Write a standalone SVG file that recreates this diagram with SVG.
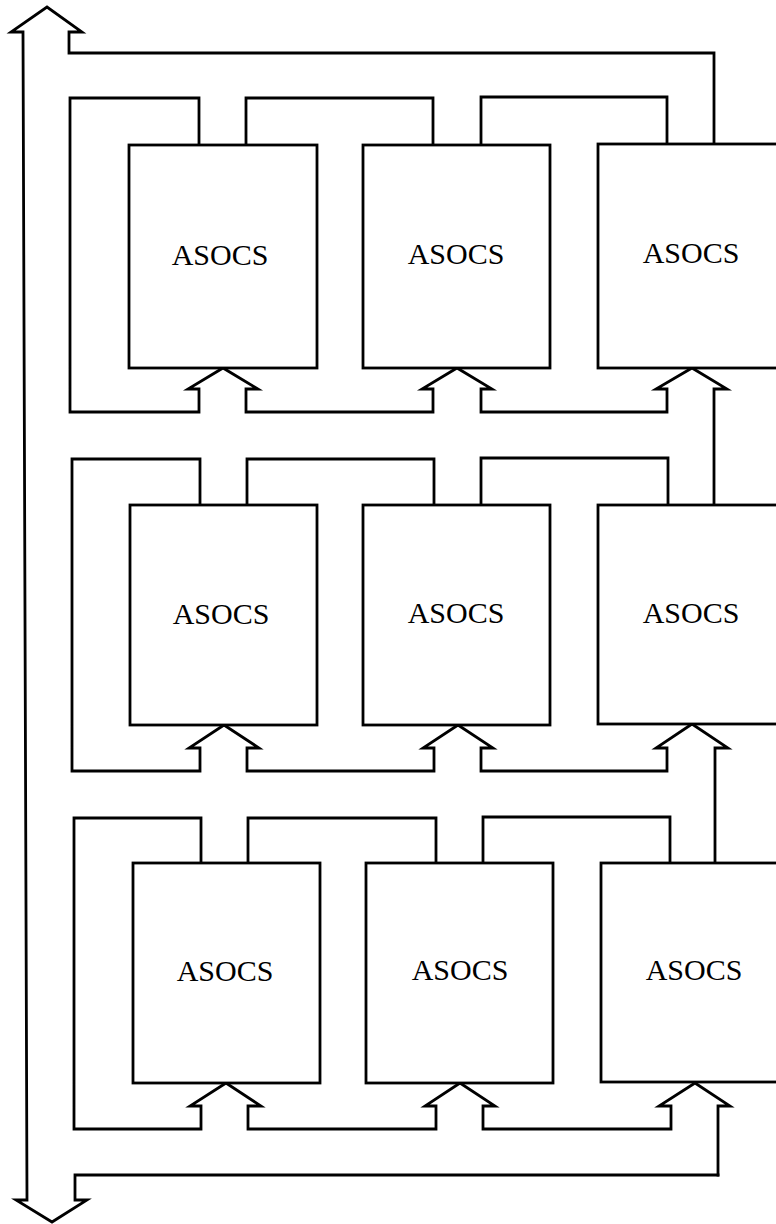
<svg xmlns="http://www.w3.org/2000/svg" width="776" height="1224" viewBox="0 0 776 1224">
<style>
.box{fill:#fff;stroke:#000;stroke-width:2.8}
.wire{fill:none;stroke:#000;stroke-width:2.8;stroke-linejoin:miter;stroke-linecap:square}
.lbl{font-family:"Liberation Serif","Times New Roman",serif;font-size:30px;fill:#000;text-anchor:middle}
</style>
<rect width="776" height="1224" fill="#fff"/>
<g id="connectors">
<path class="wire" d="M714,144 V53 H69 V32 H82 L47,7 L11,32 H23 L27,1200 H16 L52,1222 L87,1200 H75 V1175 H718"/>
<path class="wire" d="M199,145 V98 H70 V412 H199 V389 H188 L223,368 L258,389 H246 V412 H433 V389 H422 L457,368 L492,389 H481 V412 H667 V389 H656 L692,368 L727,389 H714 V505 M246,145 V98 H433 V145 M481,145 V97 H667 V144"/>
<path class="wire" d="M200,505 V459 H72 V771 H200 V748 H189 L224,725 L259,748 H247 V771 H434 V748 H423 L458,725 L493,748 H481 V771 H667 V748 H656 L692,724 L728,748 H715 V863 M247,505 V459 H434 V505 M481,505 V458 H668 V505"/>
<path class="wire" d="M201,863 V818 H74 V1129 H201 V1106 H190 L226,1083 L261,1106 H248 V1129 H436 V1106 H425 L460,1083 L495,1106 H483 V1129 H671 V1106 H659 L695,1083 L730,1106 H718 V1175 M248,863 V818 H436 V863 M483,863 V817 H670 V863"/>
</g>
<g id="asocs-r1c1"><rect class="box" x="129" y="145" width="188" height="223"/><text class="lbl" x="220" y="265">ASOCS</text></g>
<g id="asocs-r1c2"><rect class="box" x="363" y="145" width="187" height="223"/><text class="lbl" x="456" y="264">ASOCS</text></g>
<g id="asocs-r1c3"><rect class="box" x="598" y="144" width="200" height="224"/><text class="lbl" x="691" y="263">ASOCS</text></g>
<g id="asocs-r2c1"><rect class="box" x="130" y="505" width="187" height="220"/><text class="lbl" x="221" y="624">ASOCS</text></g>
<g id="asocs-r2c2"><rect class="box" x="363" y="505" width="187" height="220"/><text class="lbl" x="456" y="623">ASOCS</text></g>
<g id="asocs-r2c3"><rect class="box" x="598" y="505" width="200" height="219"/><text class="lbl" x="691" y="623">ASOCS</text></g>
<g id="asocs-r3c1"><rect class="box" x="133" y="863" width="187" height="220"/><text class="lbl" x="225" y="981">ASOCS</text></g>
<g id="asocs-r3c2"><rect class="box" x="366" y="863" width="187" height="220"/><text class="lbl" x="460" y="980">ASOCS</text></g>
<g id="asocs-r3c3"><rect class="box" x="601" y="863" width="200" height="219"/><text class="lbl" x="694" y="980">ASOCS</text></g>
</svg>
